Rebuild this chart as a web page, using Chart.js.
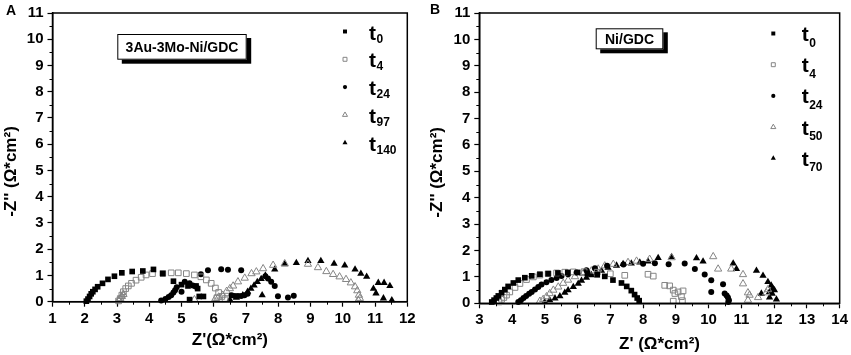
<!DOCTYPE html>
<html><head><meta charset="utf-8">
<script src="https://cdn.jsdelivr.net/npm/chart.js@4.4.1/dist/chart.umd.min.js"></script>
<style>
html,body{margin:0;padding:0;background:#fff;}
#wrap{position:relative;width:851px;height:355px;overflow:hidden;background:#fff;}
canvas{position:absolute;top:0;}
</style></head><body>
<div id="wrap">
<canvas id="cA" width="425" height="355" style="left:0"></canvas>
<canvas id="cB" width="426" height="355" style="left:425px"></canvas>
</div>
<script>
// ---------- Panel A data: 3Au-3Mo-Ni/GDC ----------
const A_title = '3Au-3Mo-Ni/GDC';
const A_labels = ['0', '4', '24', '97', '140'];
const A_t0 = [[2.05,0.02],[2.1,0.1],[2.15,0.2],[2.2,0.3],[2.25,0.38],[2.32,0.47],[2.4,0.57],[2.55,0.7],[2.72,0.85],[2.92,0.97],[3.15,1.1],[3.47,1.15],[3.8,1.17],[4.13,1.23],[4.42,1.07],[4.75,0.78],[5.0,0.65],[5.2,0.6],[5.45,0.6],[5.5,0.5],[5.55,0.2],[5.68,0.2],[5.25,0.08]];
const A_t4 = [[3.05,0.03],[3.1,0.12],[3.15,0.25],[3.2,0.38],[3.27,0.5],[3.35,0.6],[3.45,0.7],[3.59,0.82],[3.75,0.93],[3.9,1.02],[4.1,1.07],[4.42,1.08],[4.68,1.1],[4.9,1.1],[5.15,1.07],[5.4,1.02],[5.6,0.95],[5.77,0.83],[5.92,0.7],[6.05,0.52],[6.15,0.35],[6.25,0.2],[6.1,0.15],[6.35,0.12]];
const A_t24 = [[4.37,0.05],[4.5,0.1],[4.6,0.18],[4.68,0.25],[4.75,0.35],[4.8,0.44],[4.85,0.55],[5.0,0.38],[5.1,0.76],[5.25,0.7],[5.35,0.62],[5.45,0.57],[5.6,1.05],[5.82,1.2],[6.23,1.24],[6.44,1.22],[6.85,1.2],[6.55,0.25],[6.65,0.22],[6.75,0.22],[6.85,0.22],[6.95,0.25],[7.05,0.3],[7.6,0.97],[7.68,0.88],[7.78,0.76],[7.89,0.6],[7.99,0.21],[8.3,0.16],[8.48,0.23]];
const A_t97 = [[3.05,0.05],[3.1,0.12],[3.15,0.2],[3.2,0.28],[5.4,0.08],[6.05,0.12],[6.15,0.18],[6.28,0.25],[6.4,0.4],[6.5,0.5],[6.6,0.6],[6.75,0.76],[6.96,0.9],[7.17,1.07],[7.32,1.14],[7.53,1.26],[7.84,1.39],[8.2,1.45],[8.92,1.43],[9.23,1.3],[9.49,1.15],[9.7,1.04],[9.9,0.95],[10.1,0.85],[10.25,0.72],[10.38,0.57],[10.45,0.42],[10.5,0.25],[10.53,0.13],[10.48,0.06]];
const A_t140 = [[6.5,0.08],[6.7,0.15],[6.9,0.25],[7.05,0.38],[7.15,0.5],[7.25,0.62],[7.35,0.75],[7.47,0.87],[7.6,1.0],[7.5,0.25],[7.89,1.23],[8.2,1.43],[8.56,1.48],[8.92,1.55],[9.32,1.55],[9.73,1.45],[10.06,1.38],[10.38,1.23],[10.56,1.07],[10.74,0.95],[11.1,0.72],[11.28,0.72],[11.46,0.6],[10.95,0.5],[11.03,0.32],[11.26,0.13],[11.52,0.06]];

// ---------- Panel B data: Ni/GDC ----------
const B_title = 'Ni/GDC';
const B_labels = ['0', '4', '24', '50', '70'];
const B_t0 = [[3.38,0.05],[3.45,0.12],[3.52,0.2],[3.58,0.28],[3.68,0.4],[3.78,0.52],[3.88,0.64],[4.04,0.77],[4.19,0.88],[4.39,0.97],[4.6,1.04],[4.85,1.1],[5.1,1.12],[5.4,1.15],[5.7,1.17],[6.0,1.17],[6.3,1.14],[6.6,1.08],[6.83,1.02],[7.08,0.88],[7.34,0.77],[7.5,0.64],[7.64,0.48],[7.74,0.33],[7.82,0.2],[7.88,0.1]];
const B_t4 = [[3.6,0.05],[3.68,0.15],[3.75,0.22],[3.83,0.31],[3.93,0.43],[4.09,0.6],[4.24,0.75],[4.44,0.9],[4.65,1.0],[4.85,1.07],[5.1,1.12],[5.36,1.15],[5.61,1.18],[5.87,1.19],[6.2,1.2],[6.6,1.18],[7.0,1.12],[7.44,1.06],[8.15,1.1],[8.31,1.03],[8.66,0.68],[8.81,0.66],[8.92,0.5],[8.97,0.37],[9.07,0.43],[9.22,0.47],[9.17,0.25],[8.92,0.08],[9.2,0.1]];
const B_t24 = [[4.19,0.05],[4.27,0.12],[4.35,0.2],[4.43,0.28],[4.52,0.36],[4.6,0.43],[4.7,0.52],[4.8,0.62],[4.9,0.71],[5.05,0.8],[5.2,0.88],[5.36,0.96],[5.51,1.03],[5.71,1.1],[5.97,1.17],[6.27,1.25],[6.53,1.33],[6.9,1.42],[7.4,1.47],[8.0,1.5],[8.36,1.52],[8.78,1.48],[9.27,1.51],[9.58,1.3],[9.88,1.09],[10.08,0.87],[10.44,0.72],[10.08,0.43],[10.49,0.37],[10.55,0.3],[10.59,0.22],[10.62,0.12],[10.6,0.05]];
const B_t50 = [[4.85,0.08],[4.95,0.15],[5.05,0.25],[5.15,0.37],[5.26,0.5],[5.41,0.62],[5.56,0.76],[5.71,0.88],[5.92,1.01],[6.17,1.13],[6.42,1.23],[6.63,1.3],[6.83,1.42],[7.09,1.48],[7.54,1.55],[7.8,1.6],[8.2,1.67],[8.87,1.73],[10.14,1.77],[10.29,1.3],[10.69,1.3],[11.05,1.09],[11.05,0.74],[11.2,0.4],[11.25,0.31],[11.2,0.12],[11.51,0.22],[11.76,0.4],[11.81,0.52]];
const B_t70 = [[5.0,0.05],[5.15,0.12],[5.31,0.19],[5.46,0.27],[5.61,0.4],[5.71,0.5],[5.87,0.62],[6.02,0.74],[6.12,0.86],[6.27,0.97],[6.42,1.07],[6.58,1.15],[6.73,1.24],[6.93,1.35],[7.19,1.43],[7.39,1.49],[7.64,1.51],[7.9,1.55],[8.15,1.59],[8.46,1.72],[8.87,1.76],[9.63,1.71],[9.83,1.59],[10.75,1.51],[10.85,1.3],[11.46,1.24],[11.66,1.05],[11.81,0.81],[11.91,0.68],[11.96,0.56],[12.01,0.5],[11.86,0.43],[11.94,0.37],[11.61,0.37],[11.86,0.22],[12.07,0.15]];

// ---------- shared ----------
const FONT = '"Liberation Sans", Arial, Helvetica, sans-serif';
const GREY = '#858585';
const STYLES = [
  {pointStyle:'rect', radius:4.0, fill:'#000', stroke:'#000', bw:0},
  {pointStyle:'rect', radius:4.0, fill:'rgba(255,255,255,0)', stroke:GREY, bw:1},
  {pointStyle:'circle', radius:3.0, fill:'#000', stroke:'#000', bw:0},
  {pointStyle:'triangle', radius:4.2, fill:'rgba(255,255,255,0)', stroke:GREY, bw:1},
  {pointStyle:'triangle', radius:4.2, fill:'#000', stroke:'#000', bw:0}
];

function drawMarker(ctx, style, r, x, y, fill, stroke, bw) {
  ctx.save();
  ctx.beginPath();
  if (style === 'rect') {
    const s = Math.SQRT1_2 * r;
    ctx.rect(x - s, y - s, 2 * s, 2 * s);
  } else if (style === 'circle') {
    ctx.arc(x, y, r, 0, Math.PI * 2);
  } else {
    const a = -Math.PI / 2;
    for (let i = 0; i < 3; i++) {
      const ang = a + i * 2 * Math.PI / 3;
      const px = x + Math.cos(ang) * r, py = y + Math.sin(ang) * r;
      if (i === 0) ctx.moveTo(px, py); else ctx.lineTo(px, py);
    }
    ctx.closePath();
  }
  ctx.fillStyle = fill; ctx.fill();
  if (bw > 0) { ctx.strokeStyle = stroke; ctx.lineWidth = bw; ctx.stroke(); }
  ctx.restore();
}

const framePlugin = {
  id: 'framePlugin',
  afterDraw(chart, args, o) {
    const {ctx, chartArea: a, scales: {x, y}} = chart;
    ctx.save();
    ctx.strokeStyle = '#000';
    ctx.lineWidth = 1;
    ctx.beginPath();
    for (let v = x.min + 0.5; v < x.max; v += 1) {
      const px = Math.round(x.getPixelForValue(v)) + 0.5;
      ctx.moveTo(px, a.bottom); ctx.lineTo(px, a.bottom + 3);
    }
    for (let v = y.min + 0.5; v < y.max; v += 1) {
      const py = Math.round(y.getPixelForValue(v)) + 0.5;
      ctx.moveTo(a.left, py); ctx.lineTo(a.left - 3, py);
    }
    ctx.stroke();
    ctx.lineWidth = 1.5;
    ctx.strokeRect(a.left, a.top, a.right - a.left, a.bottom - a.top);

    // panel letter
    ctx.fillStyle = '#000';
    ctx.font = 'bold 14px ' + FONT;
    ctx.textAlign = 'left'; ctx.textBaseline = 'alphabetic';
    ctx.fillText(o.letter, o.letterX, o.letterY);

    // annotation box with shadow
    const [bx, by, bw, bh] = o.box;
    ctx.fillStyle = '#000';
    ctx.fillRect(bx + 4.5, by + 4, bw, bh);
    ctx.fillStyle = '#fff';
    ctx.fillRect(bx, by, bw, bh);
    ctx.lineWidth = 1;
    ctx.strokeStyle = '#000';
    ctx.strokeRect(bx + 0.5, by + 0.5, bw - 1, bh - 1);
    ctx.fillStyle = '#000';
    ctx.font = 'bold 14px ' + FONT;
    ctx.textAlign = 'center'; ctx.textBaseline = 'middle';
    ctx.fillText(o.boxText, bx + bw / 2, by + bh / 2 + 1);

    // legend with subscripts
    chart.data.datasets.forEach((ds, i) => {
      const st = STYLES[i];
      const yy = o.legY + i * o.legStep;
      drawMarker(ctx, st.pointStyle, st.radius * 0.7, o.legMX, yy, st.fill, st.stroke, st.bw);
      ctx.fillStyle = '#000';
      ctx.textAlign = 'left'; ctx.textBaseline = 'alphabetic';
      ctx.font = 'bold 21px ' + FONT;
      ctx.fillText('t', o.legTX, yy + o.tOff);
      const tw = ctx.measureText('t').width;
      ctx.font = 'bold 12px ' + FONT;
      ctx.fillText(o.subs[i], o.legTX + tw + 0.5, yy + o.subOff);
    });
    ctx.restore();
  }
};

function makeDatasets(series, labels) {
  return series.map((arr, i) => {
    const st = STYLES[i];
    return {
      label: 't' + labels[i],
      data: arr.map(p => ({x: p[0], y: p[1]})),
      showLine: false,
      pointStyle: st.pointStyle,
      pointRadius: st.radius,
      pointHoverRadius: st.radius,
      pointBackgroundColor: st.fill,
      pointBorderColor: st.stroke,
      pointBorderWidth: st.bw,
      clip: false
    };
  });
}

function makeChart(id, cfg) {
  const tickFont = {family: FONT, size: 15, weight: 'bold'};
  const titleFont = {family: FONT, size: 17, weight: 'bold'};
  return new Chart(document.getElementById(id), {
    type: 'scatter',
    data: {datasets: makeDatasets(cfg.series, cfg.subs)},
    options: {
      responsive: false,
      animation: false,
      devicePixelRatio: 1,
      layout: {padding: cfg.padding},
      plugins: {
        legend: {display: false},
        tooltip: {enabled: false},
        framePlugin: cfg.frame
      },
      scales: {
        x: {
          type: 'linear', min: cfg.xMin, max: cfg.xMax,
          afterFit: s => { s.height = cfg.xHeight; },
          ticks: {stepSize: 1, color: '#000', font: tickFont, padding: 3, maxRotation: 0, autoSkip: false},
          grid: {display: true, drawOnChartArea: false, drawTicks: true, tickLength: 5, tickColor: '#000', tickWidth: 1.2},
          border: {display: true, color: '#000', width: 1.5},
          title: {display: true, text: cfg.xTitle, color: '#000', font: titleFont, padding: {top: 0, bottom: cfg.xTitlePad}}
        },
        y: {
          type: 'linear', min: 0, max: 11,
          afterFit: s => { s.width = cfg.yWidth; },
          ticks: {stepSize: 1, color: '#000', font: tickFont, padding: 4, autoSkip: false},
          grid: {display: true, drawOnChartArea: false, drawTicks: true, tickLength: 5, tickColor: '#000', tickWidth: 1.2},
          border: {display: true, color: '#000', width: 1.5},
          title: {display: true, text: "-Z'' (\u03A9*cm\u00B2)" + '      ', color: '#000', font: titleFont, padding: {top: cfg.yTitlePad, bottom: 0}}
        }
      }
    },
    plugins: [framePlugin]
  });
}

makeChart('cA', {
  series: [A_t0, A_t4, A_t24, A_t97, A_t140],
  subs: A_labels,
  xMin: 1, xMax: 12,
  padding: {left: 0, right: 17.7, top: 11.7, bottom: 0},
  yWidth: 52.5, xHeight: 53.3,
  xTitle: "Z'(\u03A9*cm\u00B2)", xTitlePad: 4.8, yTitlePad: 1.5,
  frame: {letter: 'A', letterX: 6, letterY: 15, box: [117.3, 34, 129.4, 25.7], boxText: A_title,
          subs: A_labels, legMX: 345, legTX: 369, legY: 31.5, legStep: 27.8, tOff: 8, subOff: 11}
});

makeChart('cB', {
  series: [B_t0, B_t4, B_t24, B_t50, B_t70],
  subs: B_labels,
  xMin: 3, xMax: 14,
  padding: {left: 0, right: 11, top: 7.3, bottom: 0},
  yWidth: 54.3, xHeight: 51.7,
  xTitle: "Z' (\u03A9*cm\u00B2)", xTitlePad: 0, yTitlePad: 1.8,
  frame: {letter: 'B', letterX: 5, letterY: 13.5, box: [170.7, 28.3, 67.6, 21], boxText: B_title,
          subs: B_labels, legMX: 348.3, legTX: 376.7, legY: 33.5, legStep: 31.2, tOff: 7.5, subOff: 13}
});
</script>
</body></html>
